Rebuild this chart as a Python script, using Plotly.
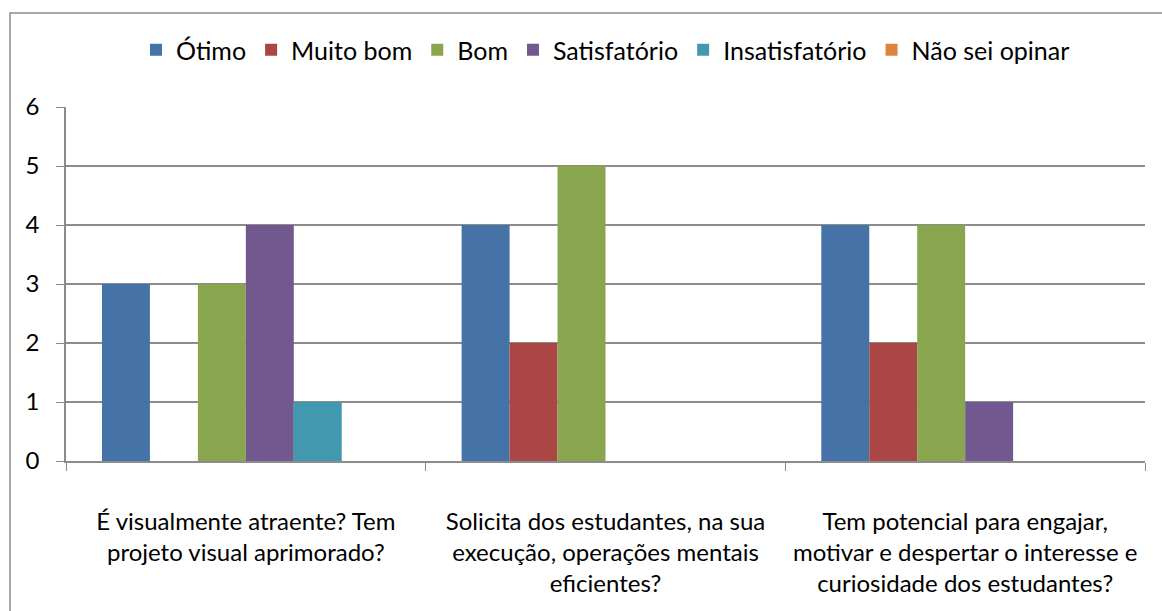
import plotly.graph_objects as go

categories = [
    "É visualmente atraente? Tem<br>projeto visual aprimorado?",
    "Solicita dos estudantes, na sua<br>execução, operações mentais<br>eficientes?",
    "Tem potencial para engajar,<br>motivar e despertar o interesse e<br>curiosidade dos estudantes?",
]
series_names = ["Ótimo", "Muito bom", "Bom", "Satisfatório", "Insatisfatório", "Não sei opinar"]
otimo = [3, 4, 4]
muito_bom = [0, 2, 2]
bom = [3, 5, 4]
satisfatorio = [4, 0, 1]
insatisfatorio = [1, 0, 0]
nao_sei = [0, 0, 0]
y_ticks = [0, 1, 2, 3, 4, 5, 6]

colors = ["#4572A7", "#AA4643", "#89A54E", "#71588F", "#4198AF", "#DB843D"]
values = [otimo, muito_bom, bom, satisfatorio, insatisfatorio, nao_sei]

FONT = "Lato"
fig = go.Figure()
for name, vals, col in zip(series_names, values, colors):
    fig.add_trace(go.Bar(x=categories, y=vals, name=name, marker_color=col,
                         marker_line_width=0))

grid = "#8c8c8c"
fig.update_layout(
    width=1162, height=611,
    margin=dict(l=66, r=17, t=107, b=150, autoexpand=False),
    paper_bgcolor="white", plot_bgcolor="white",
    barmode="group", bargap=0.2, bargroupgap=0,
    font=dict(family=FONT, size=23, color="#000000"),
    showlegend=True,
    legend=dict(orientation="h", x=0.5, xanchor="center", y=(461 - 50) / 354,
                yanchor="middle", bgcolor="rgba(0,0,0,0)",
                font=dict(family=FONT, size=25), itemclick=False,
                traceorder="normal"),
    xaxis=dict(type="category", showline=True, linecolor=grid, linewidth=1.5,
               ticks="outside", tickson="boundaries", ticklen=8, tickcolor=grid,
               tickfont=dict(size=24), showgrid=False, ticklabelstandoff=38),
    yaxis=dict(range=[0, 6], tickvals=y_ticks, showline=True, linecolor=grid,
               linewidth=1.5, ticks="outside", ticklen=8, tickcolor=grid,
               gridcolor=grid, gridwidth=1.5, zeroline=False,
               tickfont=dict(size=24), ticklabelstandoff=12),
    shapes=[dict(type="rect", xref="paper", yref="paper",
                 x0=(10 - 66) / 1079, x1=1.05, y0=-0.6, y1=(461 - 13) / 354,
                 line=dict(color="#8c8c8c", width=1.5), layer="below")],
)

fig.write_html("out.html")
